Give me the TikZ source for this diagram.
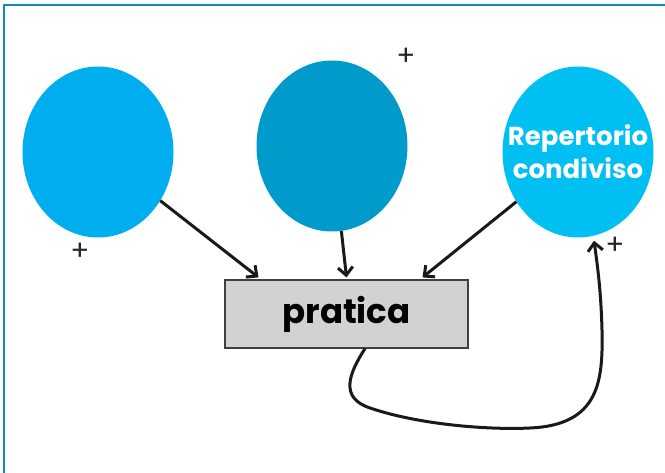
\documentclass[tikz,border=0pt]{standalone}
\usepackage{fontspec}
\setmainfont{Poppins}
\usetikzlibrary{shapes.geometric,arrows.meta}
\definecolor{bluA}{HTML}{00AEEF}
\definecolor{bluB}{HTML}{009BCA}
\definecolor{bluC}{HTML}{00BFF3}
\definecolor{frameblu}{HTML}{0E8AC3}
\definecolor{boxgray}{HTML}{D1D2D4}

\begin{document}
\begin{tikzpicture}
  [x=1pt,y=-1pt,every node/.style={inner sep=0pt},
   lobe/.style={ellipse,minimum width=151pt,minimum height=171pt},
   plus/.style={font=\fontsize{28}{28}\selectfont,text=black!85},
   link/.style={line width=3pt,draw=black!90,-{Straight Barb[length=8pt,width=15pt]}}]
  \useasboundingbox (0,0) rectangle (665,473);
  \draw[frameblu, line width=1.8pt] (4,490) -- (4,5) -- (680,5);

  \node[lobe,fill=bluA] (n1) at (98,152) {};
  \node[lobe,fill=bluB] (n2) at (332,146) {};
  \node[lobe,fill=bluC] (n3) at (578,152) {};
  \node[text=white,align=center,font=\bfseries\fontsize{26}{33}\selectfont] (t3) at (n3) {Repertorio\\condiviso};
  \node[rectangle,minimum width=243pt,minimum height=68pt,fill=boxgray,draw=black!75,line width=1.2pt,
        font=\bfseries\fontsize{34}{34}\selectfont] (p) at (346.5,314) {pratica};

  \node[plus] (s1) at (80,252) {+};
  \node[plus] (s2) at (406,57) {+};
  \node[plus] (s3) at (615,246) {+};

  \draw[link] (n1) -- ([xshift=-88pt,yshift=2pt]p.north);
  \draw[link] (n2) -- ([yshift=2pt]p.north);
  \draw[link] (n3) -- ([xshift=76pt,yshift=2pt]p.north);
  \draw[link] ([xshift=18.5pt]p.south) .. controls (348,375) and (340,398) .. (370,408)
    .. controls (420,425) and (490,430) .. (530,428)
    .. controls (600,425) and (603,380) .. (602,330)
    .. controls (601,290) and (597,262) .. ([xshift=16pt,yshift=-3pt]n3.south);
\end{tikzpicture}
\end{document}
